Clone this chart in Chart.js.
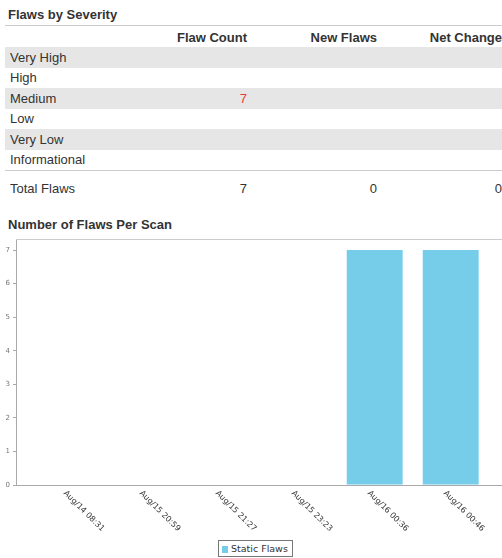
<!DOCTYPE html>
<html>
<head>
<meta charset="utf-8">
<title>Flaws by Severity</title>
<script src="https://cdn.jsdelivr.net/npm/chart.js@4.4.1/dist/chart.umd.min.js"></script>
<style>
  html, body { margin: 0; padding: 0; width: 502px; height: 558px; overflow: hidden; background: #fff; }
  body { position: relative; font-family: Arial, "Liberation Sans", sans-serif; color: #333; }
  h3 { position: absolute; left: 8px; margin: 0; font-size: 13px; line-height: 15px; font-weight: bold; color: #333; }
  #sevTitle { top: 7px; }
  #scanTitle { top: 217px; }
  #sevRule { position: absolute; left: 5px; top: 25px; width: 497px; border-top: 1px solid #ccc; }
  #sevTable { position: absolute; left: 5px; top: 27px; width: 497px; border-collapse: collapse; table-layout: fixed; font-size: 13px; }
  #sevTable th, #sevTable td { padding: 0; white-space: nowrap; }
  #sevTable th { height: 20px; font-weight: bold; color: #333; text-align: right; }
  #sevTable td { height: 20.5px; text-align: right; }
  #sevTable td:first-child { text-align: left; padding-left: 5px; }
  #sevTable tbody tr:nth-child(odd) td { background: #e6e6e6; }
  #sevTable tfoot td { height: 35px; border-top: 1px solid #ccc; }
  .red { color: #ec3b3b; }
  #chartBox { position: absolute; left: 0; top: 230px; width: 502px; height: 310px; }
  #legend { position: absolute; left: 218px; top: 540px; border: 1px solid #777; padding: 0 4px 0 3px; height: 15px; line-height: 15px; font-family: "DejaVu Sans", sans-serif; font-size: 9.5px; color: #333; white-space: nowrap; }
  #legend span { display: inline-block; width: 6px; height: 7px; margin-right: 3px; vertical-align: -1px; }
</style>
</head>
<body>
<h3 id="sevTitle">Flaws by Severity</h3>
<div id="sevRule"></div>
<table id="sevTable">
  <colgroup><col style="width:165px"><col style="width:77px"><col style="width:130px"><col style="width:125px"></colgroup>
  <thead><tr id="sevHead"></tr></thead>
  <tbody id="sevBody"></tbody>
  <tfoot><tr id="sevFoot"></tr></tfoot>
</table>

<h3 id="scanTitle">Number of Flaws Per Scan</h3>
<div id="chartBox"><canvas id="flawsPerScan"></canvas></div>
<div id="legend"></div>

<script>
// Таблица по критичности
const columns = ['', 'Flaw Count', 'New Flaws', 'Net Change'];
const severities = ['Very High', 'High', 'Medium', 'Low', 'Very Low', 'Informational'];
const severityCounts = [null, null, 7, null, null, null];
const totals = ['Total Flaws', 7, 0, 0];

// График по сканам
const scanLabels = ['Aug/14 08:31', 'Aug/15 20:59', 'Aug/15 21:27', 'Aug/15 23:23', 'Aug/16 00:36', 'Aug/16 00:46'];
const staticFlaws = [0, 0, 0, 0, 7, 7];
const yTicks = [0, 1, 2, 3, 4, 5, 6, 7];
const barColor = '#76cdea';

// шапка таблицы
const head = document.getElementById('sevHead');
columns.forEach((c) => {
  const th = document.createElement('th');
  th.textContent = c;
  head.appendChild(th);
});

// строки
const body = document.getElementById('sevBody');
severities.forEach((name, i) => {
  const tr = document.createElement('tr');
  const cells = [name, severityCounts[i] ?? '', '', ''];
  cells.forEach((v, j) => {
    const td = document.createElement('td');
    td.textContent = v;
    if (j === 1 && v !== '') td.className = 'red';
    tr.appendChild(td);
  });
  body.appendChild(tr);
});

const foot = document.getElementById('sevFoot');
totals.forEach((v) => {
  const td = document.createElement('td');
  td.textContent = v;
  foot.appendChild(td);
});

// легенда
document.getElementById('legend').innerHTML =
  `<span style="background:${barColor}"></span>Static Flaws`;

// подписи по оси X под углом + верхняя граница
const scanLabelsPlugin = {
  id: 'scanLabels',
  afterDraw(chart) {
    const { ctx, chartArea } = chart;
    const xScale = chart.scales.x;
    ctx.save();
    ctx.strokeStyle = '#cccccc';
    ctx.lineWidth = 1;
    ctx.beginPath();
    ctx.moveTo(chartArea.left, Math.round(chartArea.top) + 0.5);
    ctx.lineTo(chartArea.right, Math.round(chartArea.top) + 0.5);
    ctx.stroke();

    ctx.font = '8px "DejaVu Sans"';
    ctx.fillStyle = '#333';
    ctx.textAlign = 'left';
    ctx.textBaseline = 'middle';
    scanLabels.forEach((label, i) => {
      const x = xScale.getPixelForValue(i);
      ctx.save();
      ctx.translate(x - 6, chartArea.bottom + 7);
      ctx.rotate(Math.PI / 4);
      ctx.fillText(label, 0, 0);
      ctx.restore();
    });
    ctx.restore();
  },
};

const ctx = document.getElementById('flawsPerScan').getContext('2d');

new Chart(ctx, {
  type: 'bar',
  data: {
    datasets: [
      {
        label: 'Static Flaws',
        data: staticFlaws.map((v, i) => ({ x: i, y: v })),
        backgroundColor: barColor,
        borderWidth: 0,
        barPercentage: 0.92,
        categoryPercentage: 0.8,
      },
    ],
  },
  options: {
    responsive: true,
    maintainAspectRatio: false,
    animation: false,
    layout: { padding: { top: 9, left: 0, right: 0, bottom: 0 } },
    plugins: {
      legend: { display: false },
      tooltip: { enabled: false },
    },
    scales: {
      x: {
        type: 'linear',
        offset: false,
        min: -0.72,
        max: 5.675,
        grid: { display: false },
        ticks: { display: false },
        border: { color: '#aaaaaa' },
        afterBuildTicks: (s) => { s.ticks = scanLabels.map((l, i) => ({ value: i })); },
        afterFit: (s) => { s.height = 55; },
      },
      y: {
        min: 0,
        max: 7.33,
        ticks: {
          stepSize: 1,
          padding: 3,
          color: '#777',
          font: { size: 7, family: 'DejaVu Sans' },
        },
        grid: { drawOnChartArea: false, tickLength: 3, color: '#aaaaaa' },
        border: { color: '#aaaaaa' },
        afterBuildTicks: (s) => { s.ticks = yTicks.map((v) => ({ value: v })); },
        afterFit: (s) => { s.width = 16; },
      },
    },
  },
  plugins: [scanLabelsPlugin],
});
</script>
</body>
</html>
